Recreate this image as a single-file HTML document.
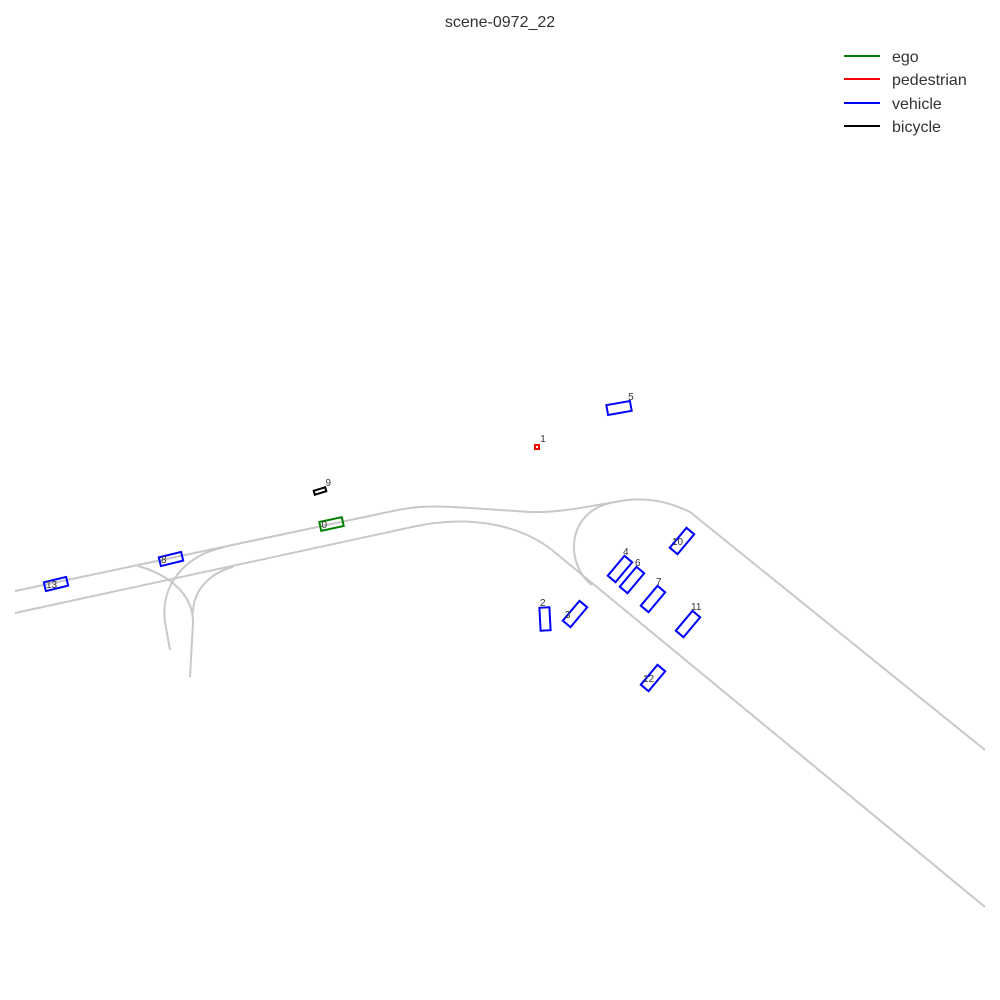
<!DOCTYPE html>
<html><head><meta charset="utf-8"><style>
body{margin:0;background:#fff;}
svg{display:block;font-family:"Liberation Sans",sans-serif;}
</style></head><body>
<svg id="chart" width="1000" height="1000" viewBox="0 0 1000 1000">
<text x="500" y="27" text-anchor="middle" font-size="16" fill="#333">scene-0972_22</text>
<g fill="none" stroke="#c8c8c8" stroke-width="2">
<path d="M15,591 L393,511 C420,505 440,506 470,508 L530,512 C560,513 590,506 615,502 C635,498 660,497 690,512 L985,750"/>
<path d="M15,613 L412,527 C470,514 520,525 552,550 L985,907"/>
<path d="M615,502 C565,510 565,565 592,585"/>
<path d="M138,566 C170,575 193,595 193,622 L190,677"/>
<path d="M225,547 C185,555 160,585 165,622 L170,650"/>
<path d="M233,567 C210,573 193,590 193,613"/>
</g>
<g id="agents"></g>
<g font-size="16" fill="#333">
<g><line x1="844" y1="56" x2="880" y2="56" stroke="green" stroke-width="2"/><text x="892" y="62">ego</text></g>
<g><line x1="844" y1="79" x2="880" y2="79" stroke="red" stroke-width="2"/><text x="892" y="85">pedestrian</text></g>
<g><line x1="844" y1="103" x2="880" y2="103" stroke="blue" stroke-width="2"/><text x="892" y="109">vehicle</text></g>
<g><line x1="844" y1="126" x2="880" y2="126" stroke="black" stroke-width="2"/><text x="892" y="132">bicycle</text></g>
</g>
</svg>
<script>
const ids = [0,1,2,3,4,5,6,7,8,9,10,11,12,13];
const types = ["ego","pedestrian","vehicle","vehicle","vehicle","vehicle","vehicle","vehicle","vehicle","bicycle","vehicle","vehicle","vehicle","vehicle"];
const cx = [331.5,537,545,575,620,619,632,653,171,320,682,688,653,56];
const cy = [524,447,619,614,569,408,580,599,559,491,541,624,678,584];
const lens = [23,4,23,26,26,24,26,26,23,12,26,26,26,23];
const wids = [9,4,10,10,10,10,10,10,9,4,10,10,10,9];
const angles = [-12,0,87,-50,-50,-10,-50,-50,-14,-17,-50,-50,-50,-14];
const colors = {ego:"green",pedestrian:"red",vehicle:"blue",bicycle:"black"};
const g = document.getElementById('agents');
const NS = "http://www.w3.org/2000/svg";
for (let i = 0; i < ids.length; i++) {
  const a = angles[i]*Math.PI/180, c = Math.cos(a), s = Math.sin(a);
  const hl = lens[i]/2, hw = wids[i]/2;
  const pts = [[-hl,-hw],[hl,-hw],[hl,hw],[-hl,hw]].map(p => (cx[i]+p[0]*c-p[1]*s).toFixed(1)+","+(cy[i]+p[0]*s+p[1]*c).toFixed(1));
  const poly = document.createElementNS(NS,'polygon');
  poly.setAttribute('points', pts.join(' '));
  poly.setAttribute('fill','none');
  poly.setAttribute('stroke', colors[types[i]]);
  poly.setAttribute('stroke-width', 2);
  
  
  g.appendChild(poly);
  const t = document.createElementNS(NS,'text');
  const inside = [0,3,8,10,12,13].includes(ids[i]);
  t.setAttribute('x', inside ? cx[i]-10 : cx[i]+hl*Math.abs(c)*0.6+2);
  t.setAttribute('y', inside ? cy[i]+4 : cy[i]-Math.max(hl*Math.abs(s),hw)-3);
  if (ids[i]===2){t.setAttribute('x', cx[i]-5);t.setAttribute('y', cy[i]-13);}
  if ([4,6,7,11].includes(ids[i])){t.setAttribute('x', cx[i]+3);t.setAttribute('y', cy[i]-14);}
  t.setAttribute('font-size', 10);
  t.setAttribute('fill', '#333');
  t.textContent = ids[i];
  
  
  g.appendChild(t);
}
</script>
</body></html>
